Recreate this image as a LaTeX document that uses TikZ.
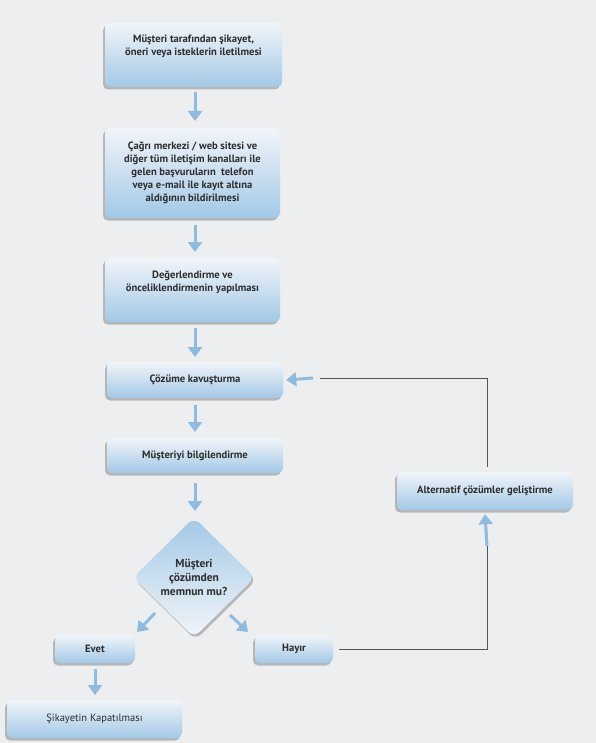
\documentclass[tikz,border=0pt]{standalone}
\usepackage{fontspec}
\setmainfont{PT Sans}
\usetikzlibrary{shapes.geometric,shadows,arrows.meta}
\definecolor{bg}{HTML}{EDEEF0}
\definecolor{boxtop}{HTML}{F1F5F9}
\definecolor{boxmid}{HTML}{C6DCF0}
\definecolor{boxbot}{HTML}{A3C8E6}
\definecolor{arr}{HTML}{8FBBDF}
\definecolor{txt}{HTML}{2E2E2E}
\definecolor{gline}{HTML}{555555}
\tikzset{
  box/.style={rounded corners=5pt, top color=boxtop, middle color=boxmid, bottom color=boxbot,
    text=txt, font=\bfseries\fontsize{10.6}{13}\selectfont, align=center, inner sep=2pt,
    drop shadow={shadow xshift=-2pt, shadow yshift=-2.5pt, fill=black!50, opacity=.5}},
  decision/.style={diamond, aspect=1, rounded corners=8pt, top color=boxbot, bottom color=boxtop,
    text=txt, font=\bfseries\fontsize{11.5}{14}\selectfont, align=center, inner sep=0pt,
    minimum width=122pt, minimum height=120pt,
    drop shadow={shadow xshift=1.5pt, shadow yshift=-2.5pt, fill=black!50, opacity=.5}},
  flowarrow/.style={draw=arr, line width=3pt, -{Triangle[width=14pt,length=10pt]}},
  loopline/.style={draw=gline, line width=1pt}
}
\begin{document}
\begin{tikzpicture}[x=1pt,y=-1pt]
\fill[bg] (0,0) rectangle (596,743);
\useasboundingbox (0,0) rectangle (596,743);

\node[box, minimum width=177pt, minimum height=64pt] (b1) at (193.5,55)
  {Müşteri tarafından şikayet,\\öneri veya isteklerin iletilmesi\\[6pt]};
\node[box, minimum width=175pt, minimum height=90pt] (b2) at (192.5,173)
  {Çağrı merkezi / web sitesi ve\\diğer tüm iletişim kanalları ile\\gelen başvuruların\ \ telefon\\veya e-mail ile kayıt altına\\aldığının bildirilmesi};
\node[box, minimum width=175pt, minimum height=64pt] (b3) at (192.5,290)
  {Değerlendirme ve\\önceliklendirmenin yapılması\\[4pt]};
\node[box, minimum width=176pt, minimum height=36pt] (b4) at (195,380)
  {Çözüme kavuşturma};
\node[box, minimum width=176pt, minimum height=35pt] (b5) at (195,455.5)
  {Müşteriyi bilgilendirme};
\node[decision] (d) at (194,577.5) {Müşteri\\çözümden\\memnun mu?};
\node[box, minimum width=78pt, minimum height=28pt] (hayir) at (294,649) {Hayır};
\node[box, minimum width=80pt, minimum height=28pt] (evet) at (95,649) {Evet};
\node[box, minimum width=175pt, minimum height=38pt, font=\fontsize{10.5}{12}\selectfont] (kapat) at (94.5,719)
  {Şikayetin Kapatılması};
\node[box, minimum width=176pt, minimum height=38pt] (alt) at (485,491)
  {Alternatif çözümler geliştirme};

\coordinate (c1) at (487,546);
\coordinate (c2) at (487,467);
\coordinate (c3) at (320,378);
\coordinate (c4) at (313,378);

\draw[flowarrow] (195,92) -- (195,121);
\draw[flowarrow] (195,225) -- (195,252);
\draw[flowarrow] (195,328) -- (195,357);
\draw[flowarrow] (195,405) -- (195,432);
\draw[flowarrow] (195,483) -- (195,511);
\draw[flowarrow] (155,613) -- (137,632);
\draw[flowarrow] (230,615) -- (248,632);
\draw[flowarrow] (95,669) -- (95,695);

\draw[loopline] ([xshift=6pt]hayir.east) -| (c1);
\draw[flowarrow] (c1) -- ([yshift=-4pt]alt.south);
\draw[loopline] (c2) |- (c3);
\draw[flowarrow] (c4) -- ([xshift=3pt]b4.east);
\end{tikzpicture}
\end{document}
